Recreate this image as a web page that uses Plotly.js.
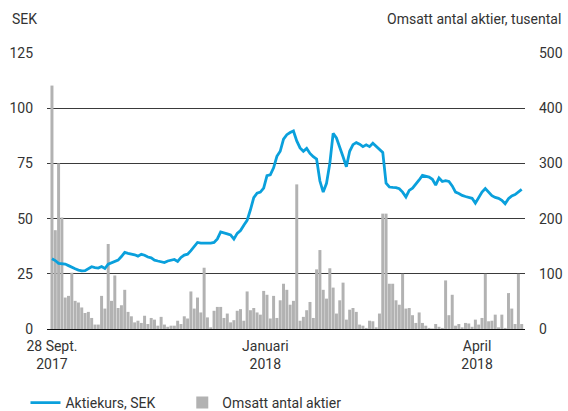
<!DOCTYPE html>
<html>
<head>
<meta charset="utf-8">
<script src="https://cdn.plot.ly/plotly-3.0.1.min.js"></script>
<style>html,body{margin:0;padding:0;background:#fff;}#chart{width:568px;height:411px;}</style>
</head>
<body>
<div id="chart"></div>
<script>
// Trading-day index (0 = 28 Sept 2017)
const dayIndex = [];
// Share price, SEK
const price = [
31.8,31.0,29.7,29.6,29.4,28.7,27.9,27.3,26.7,26.3,
26.4,27.3,28.2,27.8,27.6,28.3,27.4,29.4,30.0,30.9,
31.2,32.8,34.7,34.3,34.0,33.6,33.0,33.8,33.4,32.6,
32.2,31.2,30.8,30.4,30.1,30.8,31.3,31.5,30.6,32.4,
33.5,33.9,35.5,37.5,39.2,38.9,38.8,38.7,38.9,39.2,
40.8,44.0,43.4,43.1,42.6,40.7,43.3,44.6,47.0,49.2,
54.0,59.5,61.5,62.0,63.8,69.4,69.8,73.0,78.2,80.5,
86.0,88.0,89.0,89.7,85.2,82.0,80.5,81.8,79.5,78.0,
77.0,67.0,62.0,66.0,75.0,88.6,86.5,82.5,78.0,73.5,
80.5,83.5,84.4,83.7,82.6,83.4,82.6,84.1,82.6,81.5,
80.0,66.0,64.3,64.1,64.0,63.5,62.0,59.8,62.8,63.8,
65.5,67.5,69.6,69.3,68.8,67.8,65.2,68.4,66.8,67.2,
66.8,64.8,62.0,61.4,60.5,60.0,59.5,59.2,57.0,59.8,
62.0,63.6,61.8,60.4,59.6,59.2,58.3,56.7,59.0,60.3,
60.9,62.2,63.2
];
// Traded shares, thousands
const volume = [
441,179,300,202,57,60,102,51,48,39,29,31,20,8,8,60,37,154,51,97,38,43,71,31,23,12,15,11,24,9,20,17,6,22,8,4,6,6,15,9,23,19,68,37,57,30,
111,
21,3,33,40,40,20,28,12,16,33,36,15,
68,34,38,30,26,69,62,19,60,20,52,82,71,44,51,262,
15,22,34,49,20,108,143,
71,55,110,75,28,52,84,17,35,38,31,8,6,2,15,14,3,28,209,209,
82,82,52,44,100,
37,38,25,11,30,11,6,2,1,9,4,2,88,25,62,
6,9,3,11,10,4,17,8,20,100,
14,15,26,3,26,2,65,37,9,100,9
];
for (let i = 0; i < price.length; i++) dayIndex.push(i);

const tickPositions = [0, 64.5, 128.5];
const tickLabels = ["28 Sept.<br>2017", "Januari<br>2018", "April<br>2018"];
const seriesNames = ["Aktiekurs, SEK", "Omsatt antal aktier"];
const leftTitle = "SEK";
const rightTitle = "Omsatt antal aktier, tusental";

const fontFam = "Roboto, 'Open Sans', sans-serif";
const txt = "#333333";

const traces = [
  {
    type: "bar", x: dayIndex, y: volume, yaxis: "y",
    name: seriesNames[1], marker: {color: "#b2b2b2", line: {width: 0}},
    legend: "legend2", hoverinfo: "skip"
  },
  {
    type: "scatter", mode: "lines", x: dayIndex, y: price, yaxis: "y2",
    name: seriesNames[0], line: {color: "#0aa0dc", width: 2.8},
    legend: "legend", hoverinfo: "skip"
  }
];

const legendBase = {
  orientation: "h", xanchor: "left", y: -0.268, yanchor: "middle",
  font: {size: 14, color: txt}, bgcolor: "rgba(0,0,0,0)"
};

const layout = {
  width: 568, height: 411,
  margin: {l: 47, r: 43, t: 53, b: 82, pad: 0, autoexpand: false},
  paper_bgcolor: "#fff", plot_bgcolor: "#fff",
  font: {family: fontFam, size: 14, color: txt},
  bargap: 0.1,
  showlegend: true,
  legend: Object.assign({}, legendBase, {x: -0.045}),
  legend2: Object.assign({}, legendBase, {x: 0.283}),
  xaxis: {
    range: [-1.5, 143.0], tickmode: "array", tickvals: tickPositions, ticktext: tickLabels,
    showgrid: false, zeroline: false, showline: true, linecolor: "#111", linewidth: 1.3,
    ticks: "", ticklabelstandoff: 4, tickfont: {size: 14, color: txt}, fixedrange: true, automargin: false
  },
  yaxis: {
    side: "right", range: [0, 500], dtick: 100, tick0: 0,
    showgrid: true, gridcolor: "#3a3a3a", gridwidth: 1, zeroline: false,
    ticks: "", ticklabelstandoff: 13, tickfont: {size: 14, color: txt}, automargin: false
  },
  yaxis2: {
    overlaying: "y", side: "left", range: [0, 125], dtick: 25, tick0: 0,
    showgrid: false, zeroline: false,
    ticks: "", ticklabelstandoff: 13, tickfont: {size: 14, color: txt}, automargin: false
  },
  annotations: [
    {text: leftTitle, xref: "paper", yref: "paper", x: -0.077, y: 1.123, xanchor: "left", yanchor: "middle", showarrow: false, font: {size: 14, color: txt}},
    {text: rightTitle, xref: "paper", yref: "paper", x: 1.079, y: 1.123, xanchor: "right", yanchor: "middle", showarrow: false, font: {size: 14, color: txt}}
  ]
};

Plotly.newPlot("chart", traces, layout, {displayModeBar: false, staticPlot: true});
</script>
</body>
</html>
